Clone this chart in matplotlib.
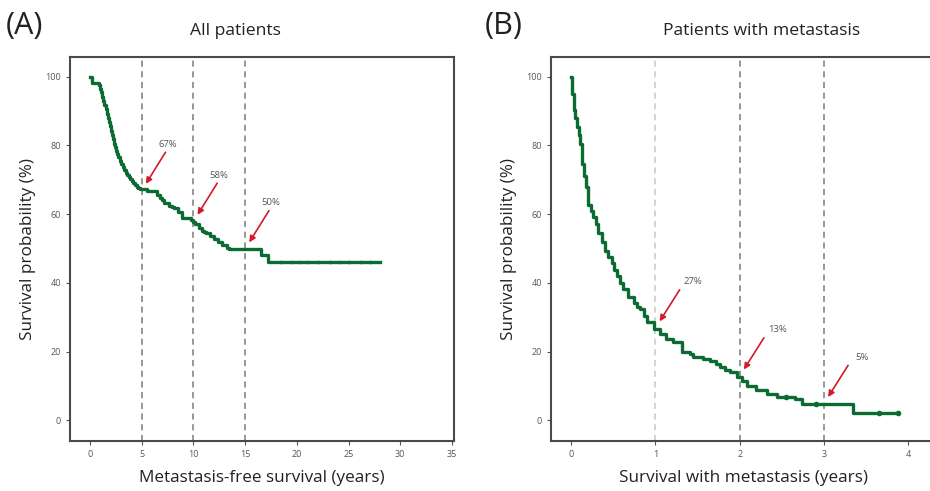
import matplotlib.pyplot as plt

plt.rcParams['font.family'] = ['Open Sans', 'DejaVu Sans']

# Kaplan-Meier steps, all patients (years, % surviving)
t_all = [0, 0.15, 0.9, 1.0, 1.1, 1.2, 1.3, 1.4, 1.5, 1.6, 1.7, 1.8, 1.9, 2.0, 2.1, 2.2,
         2.3, 2.4, 2.5, 2.62, 2.75, 2.88, 3.0, 3.15, 3.3, 3.45, 3.6, 3.75, 3.9, 4.05,
         4.2, 4.35, 4.5, 4.65, 4.8, 5.5, 6.3, 6.5, 6.8, 7.0, 7.2, 7.6, 7.9, 8.1, 8.5,
         8.9, 9.8, 10.0, 10.2, 10.5, 10.8, 11.0, 11.2, 11.6, 12.0, 12.4, 12.8, 13.2,
         13.4, 16.5, 17.2, 28.0]
s_all = [100, 98.2, 97.5, 96.5, 95.5, 94.2, 93, 91.8, 90.5, 89.2, 88, 86.8, 85.5, 84.2,
         83, 81.8, 80.5, 79.5, 78.5, 77.5, 76.5, 75.5, 74.5, 73.6, 72.8, 72.1, 71.5,
         70.8, 70.2, 69.6, 69, 68.4, 67.8, 67.5, 67.2, 66.8, 66.6, 65.6, 64.6, 64, 63.2,
         62.5, 62, 61.7, 60.5, 59, 58.2, 57.6, 57, 56, 55.2, 54.8, 54.5, 53.6, 52.8,
         51.8, 51, 50.2, 49.8, 48.1, 46.2, 46.2]
cens_all = [18.5, 19.4, 20.3, 21.1, 22.0, 23.2, 24.1, 25.0, 26.2, 27.1]

# Kaplan-Meier steps, patients with metastasis
t_met = [0, 0.01, 0.03, 0.05, 0.07, 0.09, 0.11, 0.13, 0.15, 0.17, 0.2, 0.23, 0.26, 0.29,
         0.32, 0.36, 0.4, 0.44, 0.48, 0.51, 0.54, 0.58, 0.62, 0.68, 0.74, 0.78, 0.82,
         0.86, 0.9, 0.98, 1.06, 1.12, 1.21, 1.31, 1.41, 1.45, 1.56, 1.65, 1.72, 1.77,
         1.83, 1.89, 1.97, 2.03, 2.09, 2.2, 2.32, 2.44, 2.66, 2.74, 3.35, 3.88]
s_met = [100, 95, 90.2, 88, 85.3, 83, 80.5, 74.7, 71, 68, 62.7, 61, 59.3, 57,
         54.5, 52, 49.2, 47.5, 45.8, 43.8, 41.9, 40, 38.1, 36, 34.2, 33, 32.3,
         30.4, 28.5, 26.5, 25.1, 23.6, 22.7, 19.8, 19.3, 18.3, 17.8, 17.4, 16.5, 15.4,
         14.7, 14, 12.6, 11.5, 10.1, 8.7, 7.7, 6.8, 6.3, 4.8, 2.2, 2.2]
cens_met = [2.55, 2.91, 3.65, 3.88]

# reference lines and the survival quoted at each
marks_all = [5, 10, 15]
pct_all = [67, 58, 50]
marks_met = [1, 2, 3]
pct_met = [27, 13, 5]

green = '#0b6b32'
red = '#d11a2a'
grey = '#555555'


def step_value(t, s, x):
    v = s[0]
    for ti, si in zip(t, s):
        if ti <= x:
            v = si
    return v


def km_panel(ax, t, s, cens, cens_ms, marks, pcts, xlim, xticks, dx, tx, line_cols):
    ax.plot(t, s, drawstyle='steps-post', color=green, lw=2.4, zorder=3)
    ax.plot(cens, [step_value(t, s, c) for c in cens], ls='none', marker='o',
            ms=cens_ms, color=green, zorder=4)
    for m, p, c in zip(marks, pcts, line_cols):
        ax.axvline(m, color=c, ls=(0, (4, 3)), lw=1.1, zorder=1)
        ax.annotate('', xy=(m + 0.4 * dx, p + 1.8), xytext=(m + 2.3 * dx, p + 11),
                    arrowprops=dict(arrowstyle='-|>', color=red, lw=1.2,
                                    mutation_scale=9, shrinkA=0, shrinkB=0))
        ax.text(m + tx, p + 13.3, f'{p}%', fontsize=6.8, color=grey,
                ha='center', va='center')
    ax.set_xlim(*xlim)
    ax.set_ylim(-6, 105.7)
    ax.set_xticks(xticks)
    ax.set_yticks([0, 20, 40, 60, 80, 100])
    ax.tick_params(labelsize=6.5, labelcolor=grey, color=grey, length=3, width=0.8)
    for sp in ax.spines.values():
        sp.set_color('#4a4a4a')
        sp.set_linewidth(1.5)


fig = plt.figure(figsize=(9.3, 4.91), dpi=100)
ax1 = fig.add_axes([0.0753, 0.1018, 0.4129, 0.782])
ax2 = fig.add_axes([0.5925, 0.1018, 0.4129, 0.782])

km_panel(ax1, t_all, s_all, cens_all, 1.6, marks_all, pct_all, (-1.93, 35.2),
         [0, 5, 10, 15, 20, 25, 30, 35], 1.0, 2.5, ['#7a7a7a'] * 3)
km_panel(ax2, t_met, s_met, cens_met, 3, marks_met, pct_met, (-0.24, 4.32),
         [0, 1, 2, 3, 4], 0.125, 0.45, ['#c8c8c8', '#7a7a7a', '#7a7a7a'])

for ax, xl in [(ax1, 'Metastasis-free survival (years)'),
               (ax2, 'Survival with metastasis (years)')]:
    ax.set_xlabel(xl, fontsize=12.3, color='#222222', labelpad=8)
    ax.set_ylabel('Survival probability (%)', fontsize=12.3, color='#222222', labelpad=7)

fig.text(235 / 930, 1 - 31 / 491, 'All patients', fontsize=12.6, ha='center', va='center',
         color='#222222')
fig.text(762 / 930, 1 - 31 / 491, 'Patients with metastasis', fontsize=12.6, ha='center',
         va='center', color='#222222')
fig.text(6 / 930, 1 - 26 / 491, '(A)', fontsize=22, ha='left', va='center', color='#222222')
fig.text(485 / 930, 1 - 26 / 491, '(B)', fontsize=22, ha='left', va='center', color='#222222')

fig.savefig('out.png', dpi=100)
